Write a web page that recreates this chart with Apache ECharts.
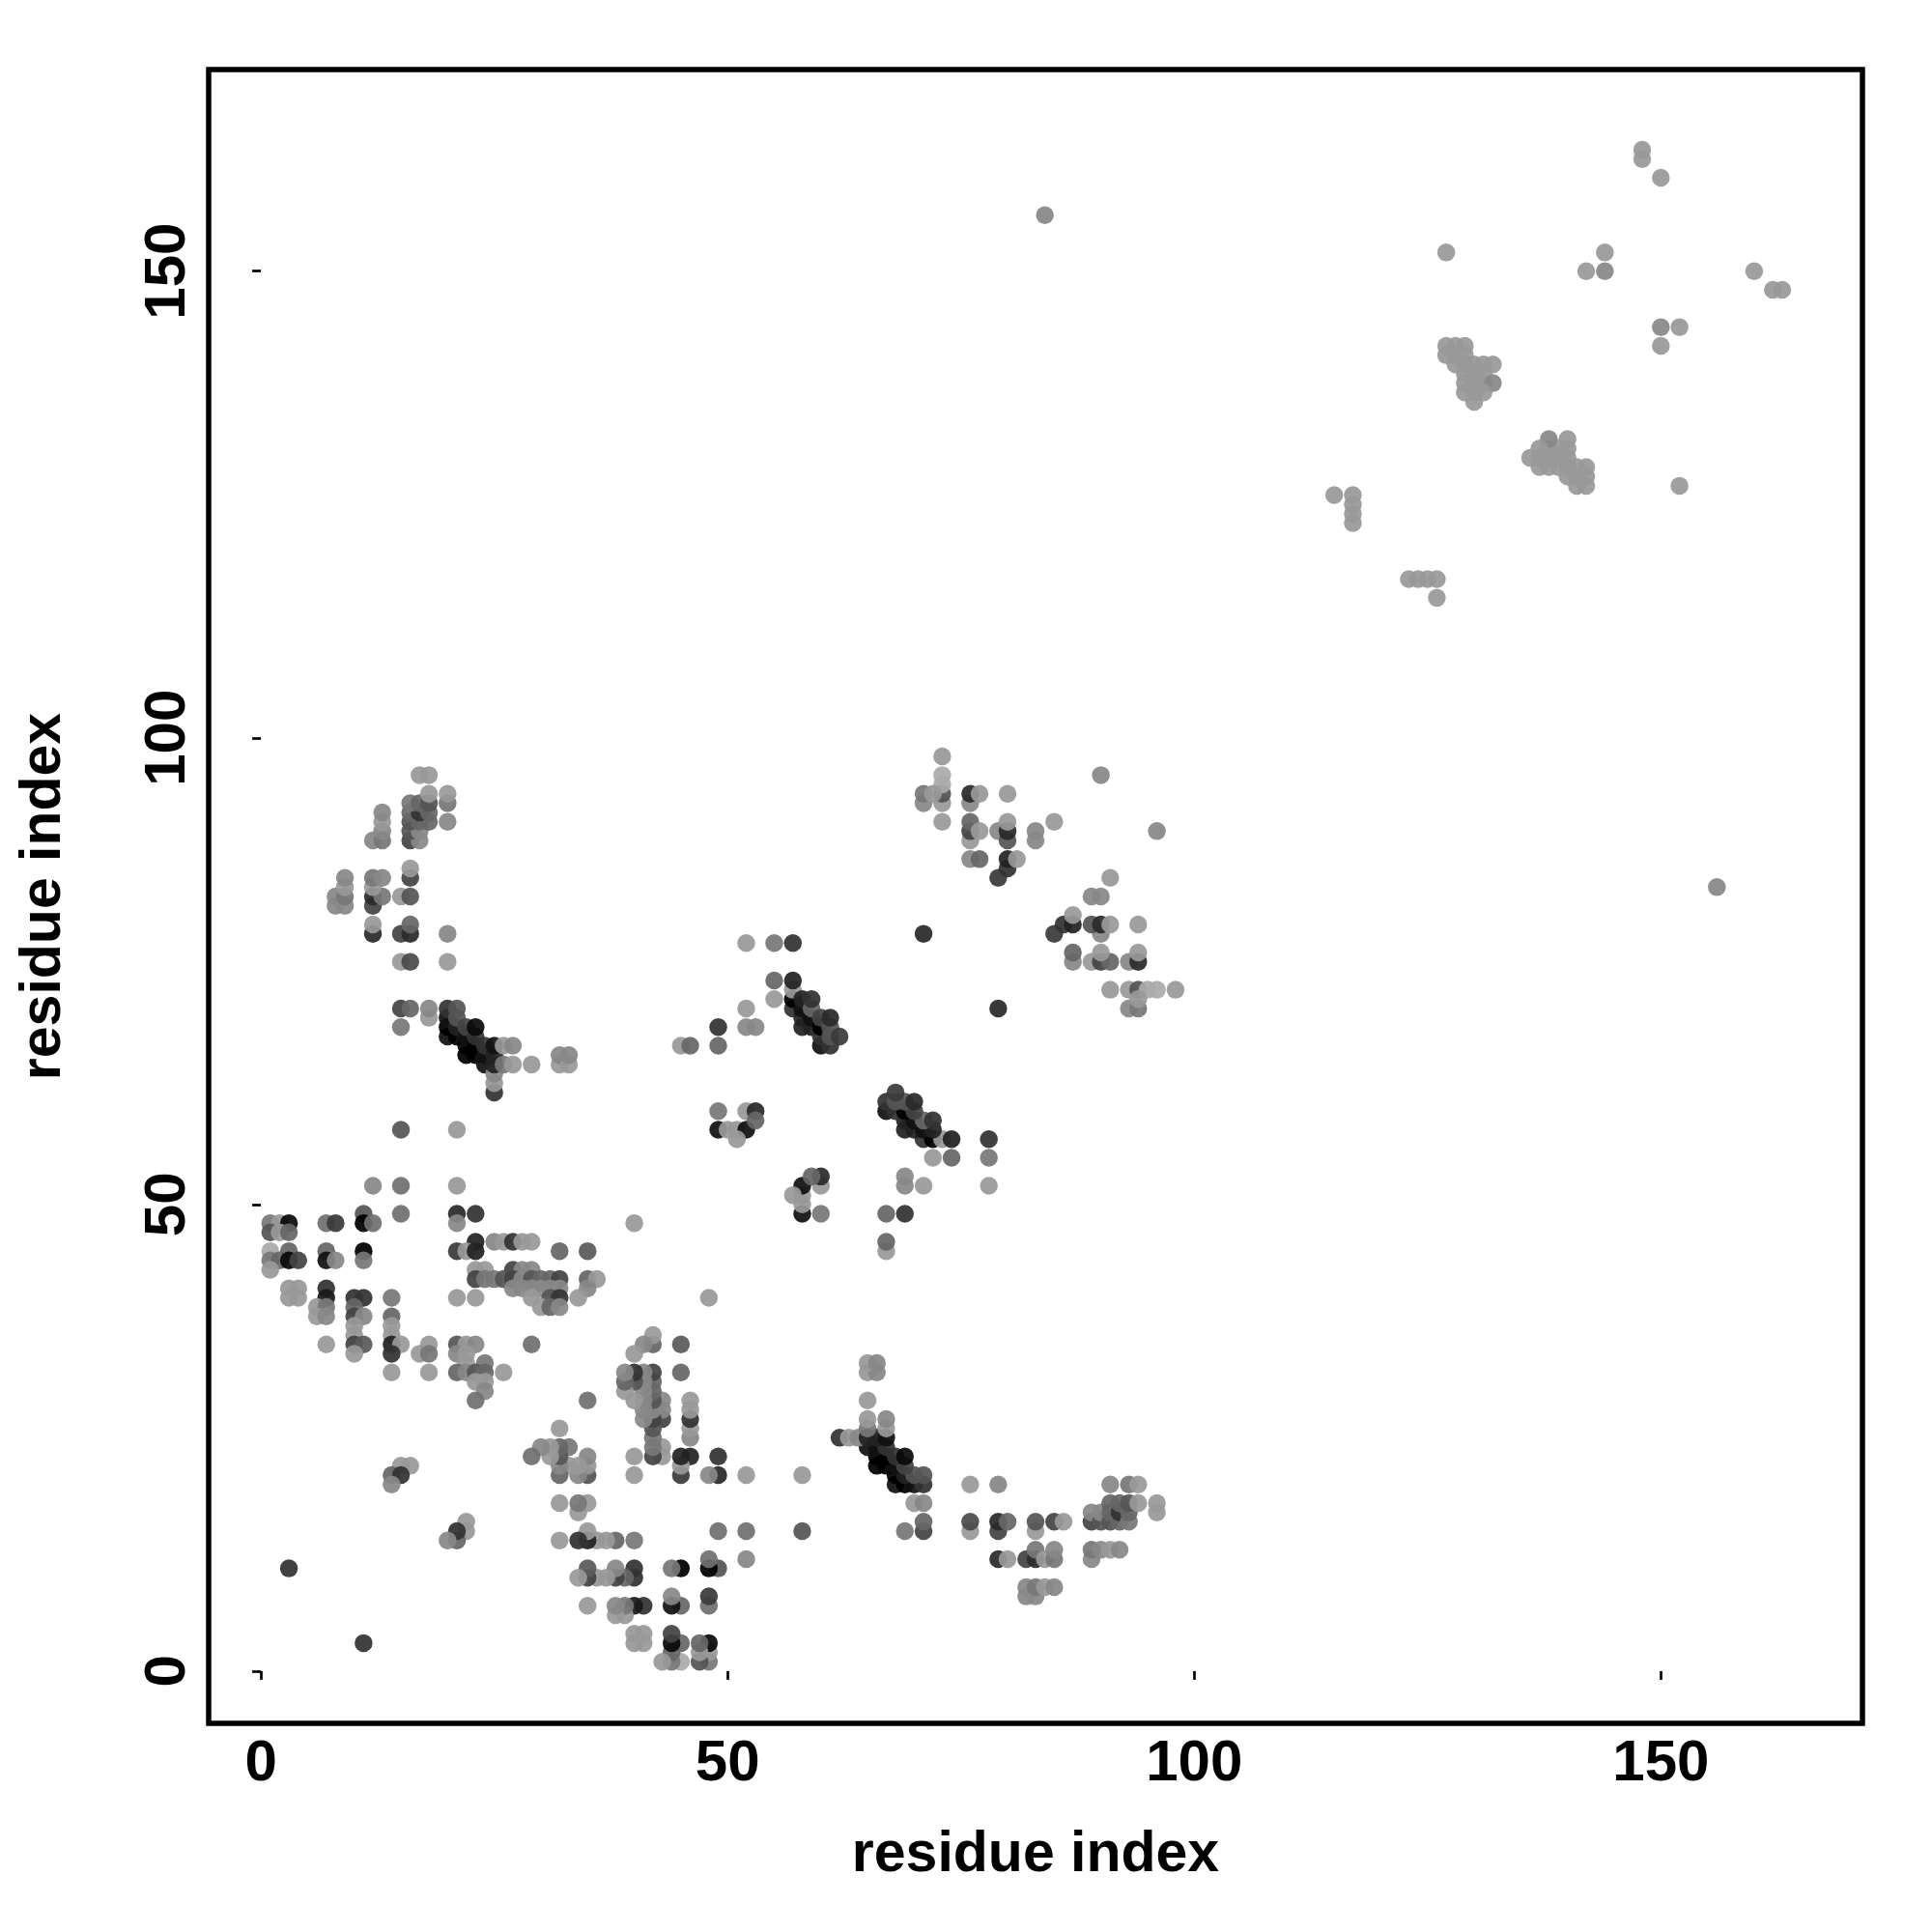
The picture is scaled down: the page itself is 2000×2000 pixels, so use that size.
<!DOCTYPE html>
<html>
<head>
<meta charset="utf-8">
<style>html,body{margin:0;padding:0;background:#fff}#chart{width:2000px;height:2000px}</style>
<script src="https://cdn.jsdelivr.net/npm/echarts@6/dist/echarts.min.js"></script>
</head>
<body>
<div id="chart"></div>
<script>
// Each contact: [residue i, residue j, grey level]. The map is symmetric.
const tickValues = [0, 50, 100, 150];
const axisTitle = 'residue index';
const contactsLowBlock = [
[11,49,0x55],[15,49,0x70],[21,49,0x2a],[23,49,0x33],
[1,48,0x77],[2,48,0x99],[3,48,0x0a],[7,48,0x70],[8,48,0x3a],[11,48,0x00],[12,48,0x70],[21,48,0x88],[40,48,0x99],
[1,47,0x55],[2,47,0x99],[3,47,0x66],
[23,46,0x22],[25,46,0x88],[26,46,0x99],[27,46,0x33],[28,46,0x99],[29,46,0x99],
[1,45,0xaa],[3,45,0x66],[7,45,0x66],[11,45,0x00],[21,45,0x3a],[22,45,0x99],[23,45,0x22],[32,45,0x66],[35,45,0x5a],
[1,44,0x77],[2,44,0x66],[3,44,0x0a],[4,44,0x44],[7,44,0x11],[8,44,0x88],[11,44,0x77],
[1,43,0x99],[23,43,0x99],[24,43,0x99],[27,43,0x44],[28,43,0x88],[29,43,0x88],
[23,42,0x44],[24,42,0x77],[25,42,0x77],[26,42,0x55],[27,42,0x44],[28,42,0x88],[29,42,0x55],[30,42,0x66],[31,42,0x66],[32,42,0x44],[35,42,0x66],[36,42,0x99],
[3,41,0x99],[4,41,0x99],[7,41,0x33],[27,41,0x88],[28,41,0x88],[29,41,0x88],[30,41,0x88],[31,41,0x88],[32,41,0x88],[35,41,0x88],
[3,40,0x99],[4,40,0x99],[7,40,0x1a],[10,40,0x33],[11,40,0x33],[14,40,0x77],[21,40,0x99],[23,40,0x99],[29,40,0x99],[31,40,0x55],[32,40,0x33],[34,40,0x99],
[6,39,0x99],[7,39,0x77],[10,39,0x66],[30,39,0x99],[31,39,0x66],[32,39,0x88],
[6,38,0x99],[7,38,0x88],[10,38,0x44],[11,38,0x88],[14,38,0x66],
[10,37,0x99],[14,37,0x99],[10,36,0x99],[14,36,0x99],
[7,35,0x99],[10,35,0x44],[11,35,0x5a],[14,35,0x22],[15,35,0x99],[18,35,0x99],[21,35,0x55],[22,35,0x99],[23,35,0x88],[29,35,0x70],
[10,34,0x99],[14,34,0x33],[17,34,0x99],[18,34,0x77],[21,34,0x88],[22,34,0x99],
[22,33,0x99],[24,33,0x77],
[14,32,0x99],[18,32,0x99],[21,32,0x66],[22,32,0x88],[23,32,0x55],[24,32,0x66],[26,32,0x99],
[23,31,0x99],[24,31,0x99],[24,30,0x88],[23,29,0x70],
[15,22,0x99],[16,22,0x99],[14,21,0x66],[15,21,0x33],[14,20,0x88],
[3,11,0x33]
];
const contactsHelixA = [
[20,68,0x11],[20,69,0x00],[20,70,0x11],[20,71,0x33],
[21,68,0x00],[21,69,0x22],[21,70,0x55],[21,71,0x55],
[22,66,0x00],[22,67,0x00],[22,68,0x11],[22,69,0x44],
[23,66,0x00],[23,67,0x00],[23,68,0x33],[23,69,0x0a],
[24,65,0x11],[24,66,0x11],[24,67,0x33],
[25,62,0x33],[25,63,0x99],[25,64,0x88],[25,65,0x22],[25,66,0x22],[25,67,0x11],
[26,65,0x77],[26,67,0x99],[27,65,0x99],[27,67,0x88],[29,65,0x99],
[32,65,0x99],[32,66,0x88],[33,65,0x99],[33,66,0x88],
[18,70,0x99],[18,71,0x88],[15,69,0x77],[15,71,0x44],[16,71,0x66]
];
const contactsLongRange = [
[15,76,0x99],[16,76,0x4a],[20,76,0x99],
[12,79,0x2a],[15,79,0x44],[16,79,0x2a],[20,79,0x88],[12,80,0x99],[16,80,0x66],
[8,82,0x88],[9,82,0x88],[12,82,0x44],
[8,83,0x88],[9,83,0x77],[12,83,0x2a],[13,83,0x77],[15,83,0x99],[16,83,0x55],
[9,84,0x99],[12,84,0x99],
[9,85,0x88],[12,85,0x77],[13,85,0x88],[16,85,0x44],[16,86,0x99],
[12,89,0x88],[13,89,0x77],[16,89,0x44],[17,89,0x88],
[13,90,0x88],[16,90,0x55],[17,90,0x88],
[13,91,0x99],[16,91,0x55],[17,91,0x66],[18,91,0x66],[20,91,0x88],
[13,92,0x88],[16,92,0x66],[17,92,0x33],[18,92,0x66],
[16,93,0x77],[17,93,0x66],[18,93,0x55],[20,93,0x77],
[18,94,0x99],[20,94,0x99],[17,96,0x99],[18,96,0x99],
[12,52,0x88],[15,52,0x70],[21,52,0x99],[15,58,0x55],[21,58,0x99]
];
const contactsMiddle = [
[45,67,0x99],[46,67,0x66],[49,67,0x66],[49,69,0x33],[52,69,0x88],[53,69,0x88],[52,71,0x99],
[55,72,0x99],[55,74,0x66],[52,78,0x99],[55,78,0x77],[57,78,0x33],
[57,71,0x33],[57,72,0x00],[57,73,0x99],[57,74,0x22],
[58,69,0x22],[58,70,0x22],[58,71,0x11],[58,72,0x22],
[59,69,0x22],[59,70,0x11],[59,71,0x66],[59,72,0x33],
[60,67,0x11],[60,68,0x33],[60,69,0x00],[60,70,0x44],
[61,67,0x33],[61,68,0x55],[61,69,0x55],[61,70,0x2a],[62,68,0x3a],
[49,58,0x11],[50,58,0x99],[51,58,0x99],[52,58,0x11],[51,57,0x99],
[49,60,0x77],[52,60,0x99],[53,60,0x2a],[53,59,0x66]
];
const contactsHelixB = [
[65,33,0x99],[66,33,0x88],[65,32,0x99],[66,32,0x88],[65,29,0x99],[65,27,0x99],[67,27,0x99],[65,26,0x88],[67,26,0xaa],
[64,25,0x88],[65,24,0x11],[66,24,0x00],[67,24,0x33],[65,25,0x22],[66,25,0x22],[67,25,0x11],[62,25,0x33],[63,25,0x99]
].filter(function (c) { return false; }).concat([
[63,67,0x00]
]).filter(function (c) { return false; });
const contactsNearDiagonal = [
[71,79,0x2a],
[73,91,0x99],[73,93,0x99],[73,94,0x55],[73,95,0xaa],[73,96,0xaa],[73,98,0x99],
[71,93,0x88],[71,94,0x77],[72,94,0x99],
[76,87,0x88],[76,89,0x99],[76,90,0x44],[76,91,0x66],[76,93,0x88],[76,94,0x2a],
[77,87,0x66],[77,90,0x99],[77,94,0x99],
[79,85,0x3a],[79,90,0x88],
[80,86,0x33],[80,87,0x22],[80,89,0x55],[80,90,0x2a],[80,91,0x99],[80,94,0x99],
[81,87,0x99],[83,89,0x88],[83,90,0x88],[85,91,0x99],[90,96,0x88]
];
const contactsStrand = [
[69,52,0x99],[69,53,0x99],[71,52,0x99],[72,55,0x99],[74,55,0x66],
[73,57,0x99],[74,57,0x22],[78,52,0x99],[78,55,0x88],[78,57,0x33],
[71,57,0x22],[72,57,0x00],[69,58,0x22],[70,58,0x22],[71,58,0x22],[72,58,0x22],
[69,59,0x22],[70,59,0x11],[71,59,0x66],[72,59,0x22],
[67,60,0x11],[68,60,0x2a],[69,60,0x00],[70,60,0x55],
[67,61,0x2a],[68,61,0x33],[69,61,0x66],[70,61,0x2a],[68,62,0x3a],
[57,51,0x99],[58,51,0x99],[58,50,0x99],[58,49,0x11],[58,52,0x11],
[59,53,0x66],[60,53,0x2a],[60,52,0x99],[60,49,0x77],
[67,49,0x66],[69,49,0x33],[67,46,0x66],[67,45,0x99]
];
const contactsFarCluster = [
[84,156,0x88],
[115,126,0x99],[117,123,0x99],[117,124,0x99],[117,125,0x99],[117,126,0x99],
[127,152,0x99],[144,152,0x99],[142,150,0x99],[144,150,0x88],[150,160,0x99],[148,162,0x99],[148,163,0x99],
[127,142,0x99],[128,142,0x99],[129,142,0x99],[127,141,0x99],[128,141,0x99],[129,141,0x99],
[128,140,0x99],[129,140,0x99],[130,140,0x99],[131,140,0x99],[132,140,0x99],
[129,139,0x99],[130,139,0x99],[131,139,0x99],
[129,138,0x99],[130,138,0x99],[131,138,0x99],[132,138,0x88],
[129,137,0x99],[130,137,0x99],[131,137,0x99],[130,136,0x99]
];
const contactsTail = [
[43,1,0x99],[117,0,0x99]
].filter(function (c) { return false; });

const contacts = contactsLowBlock.concat(contactsHelixA, contactsLongRange, contactsMiddle, contactsNearDiagonal, contactsStrand, contactsFarCluster,
  [[1,0,0]].filter(function () { return false; }));

function grey(v) { return 'rgb(' + v + ',' + v + ',' + v + ')'; }
const seen = {};
const points = [];
contacts.forEach(function (c) {
  const a = Math.min(c[0], c[1]), b = Math.max(c[0], c[1]);
  if (seen[a + '-' + b]) return;
  seen[a + '-' + b] = 1;
  points.push([a, b, c[2]]);
});
const mirrored = points.map(function (p) { return [p[1], p[0], p[2]]; });

const labelFont = { fontFamily: 'Liberation Sans', fontWeight: 'bold', fontSize: 60, color: '#000' };
function axisFor(isX) {
  return {
    type: 'value', min: -5.6, max: 171.6, scale: true,
    name: axisTitle, nameLocation: 'middle', nameGap: isX ? 107 : 141,
    nameTextStyle: { fontFamily: 'Liberation Sans', fontWeight: 'bold', fontSize: 59, color: '#000' },
    splitLine: { show: false }, axisLine: { show: false },
    axisTick: { show: true, length: 9, inside: false, lineStyle: { color: '#000', width: 2.7 }, customValues: tickValues },
    axisLabel: Object.assign({ show: true, margin: 12, rotate: isX ? 0 : 90, customValues: tickValues, hideOverlap: false, showMinLabel: true, showMaxLabel: true }, labelFont)
  };
}
const chart = echarts.init(document.getElementById('chart'), null, { renderer: 'canvas' });
chart.setOption({
  animation: false,
  backgroundColor: '#fff',
  grid: { left: 216, right: 72, top: 72, bottom: 216, show: true, borderColor: '#000', borderWidth: 5.5, backgroundColor: 'transparent', containLabel: false },
  xAxis: axisFor(true),
  yAxis: axisFor(false),
  series: [{
    type: 'scatter', symbol: 'circle', symbolSize: 18.5, clip: true,
    data: points.concat(mirrored),
    itemStyle: { opacity: 0.93, color: function (p) { return grey(p.data[2]); } },
    emphasis: { disabled: true }, large: false, progressive: 0
  }]
});
</script>
</body>
</html>
